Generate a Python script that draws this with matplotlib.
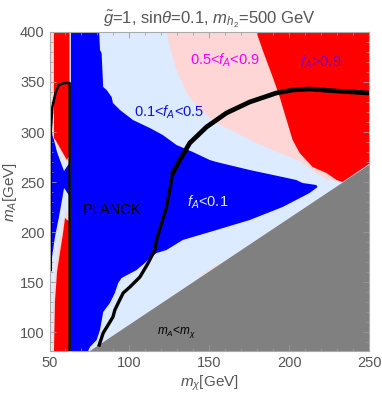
import matplotlib.pyplot as plt

plt.rcParams["font.family"] = "Liberation Sans"
plt.rcParams["mathtext.fontset"] = "custom"
plt.rcParams["mathtext.rm"] = "Liberation Sans"
plt.rcParams["mathtext.it"] = "Liberation Sans:italic"

# colours of the f_A regions
c_blue = "#0000ff"
c_lblue = "#dcebff"
c_pink = "#ffd6d6"
c_red = "#ff0000"
c_gray = "#808080"

# region boundaries (m_chi, m_A)
# f_A < 0.1, main region
blue_x = [63.4, 81.1, 81.6, 82.6, 83.6, 85.75, 88.9, 89.7, 94.1, 102.2, 112.8, 120.9,
          129.5, 139.7, 150.3, 154.5, 175.3, 195.9, 204.5, 208.4, 217.0, 217.8,
          212.8, 195.9, 175.3, 154.5, 133.4, 123.2, 117.0, 112.8, 109.7, 104.5,
          95.1, 93.0, 90.9, 87.8, 83.6, 81.6, 79.5, 75.3, 74.2, 63.4]
blue_y = [400, 400, 382, 379, 345, 342, 335, 329, 322, 312, 304, 297,
          287, 280, 272, 270, 262, 255, 252, 249, 247, 245,
          239, 225, 212, 202, 192, 182, 179, 174, 169, 162,
          154, 149, 139, 129, 120, 102, 92, 85, 81, 81]

# 0.5 < f_A < 0.9
pink_x = [123.3, 125.3, 129.5, 135.75, 144.1, 154.5, 167.0, 179.5, 194.1, 206.6,
          216.0, 224.0, 233.4, 250, 250]
pink_y = [400, 385, 362, 339, 322, 309, 299, 289, 279, 271,
          260, 252, 250, 268, 400]

# f_A > 0.9
red_x = [179.5, 183.4, 189.7, 194.1, 198.4, 202.2, 206.6, 214.7, 223.4, 229.7,
         233.4, 250, 250]
red_y = [400, 382, 355, 335, 312, 292, 279, 265, 259, 252,
         250, 268, 400]

# thin pink sliver along the m_A = m_chi edge
sliver_x = [143, 156, 156, 143]
sliver_y = [153.3, 167.2, 168.7, 154.8]

# Higgs resonance strip
strip_blue_x = [50, 62.5, 62.5, 50]
strip_blue_y = [160, 160, 307, 307]
up_lb_x = [50, 62.5, 62.5, 60.3, 59.1, 57.2, 54.7, 52.8, 51.6, 50]
up_lb_y = [400, 400, 269, 264, 261, 269, 280, 292, 300, 307]
up_pk_x = [51.2, 62.5, 62.5, 60.9, 58.4, 55.9, 53.4, 51.9]
up_pk_y = [400, 400, 272, 269, 275, 283, 291, 296]
up_rd_x = [52.8, 62.5, 62.5, 60.9, 58.4, 55.9, 54.1, 52.8]
up_rd_y = [400, 400, 277, 272, 279, 286, 291, 294]
lo_lb_x = [59.1, 62.5, 62.5, 50, 50, 51.6, 53.4, 55.9, 57.8]
lo_lb_y = [244, 236, 81, 81, 160, 175, 195, 215, 232]
lo_pk_x = [60.3, 62.5, 62.5, 51.9, 52.2, 53.4, 55.3, 57.8]
lo_pk_y = [222, 218, 81, 81, 130, 160, 185, 205]
lo_rd_x = [59.7, 62.5, 62.5, 52.8, 53.4, 54.7, 56.6, 58.4]
lo_rd_y = [214, 210, 81, 81, 130, 160, 180, 198]

# m_A < m_chi excluded
gray_x = [75.3, 250, 250]
gray_y = [81, 267, 81]

# PLANCK relic density curves
planck_lo_x = [81.1, 83.6, 87.8, 89.7, 90.9, 93.0, 96.1, 100.3, 106.6, 111.75, 115.9,
               117.0, 123.25, 124.1, 127.2]
planck_lo_y = [87, 99, 110, 115, 122, 129, 139, 145, 155, 169, 182,
               192, 225, 232, 259]
planck_hi_x = [127.2, 131.6, 137.8, 148.25, 160.75, 175.3, 192.0,
               202.4, 212.8, 229.5, 250]
planck_hi_y = [259, 272, 289, 305, 319, 330, 339,
               342, 343, 341, 339]
res_x = [50.8, 50.8, 50.8, 51.8, 53.9, 55.9, 59.1, 62.6, 62.6]
res_y = [162, 232, 302, 325, 340, 347, 349, 349, 81]

fig = plt.figure(figsize=(3.82, 3.96), dpi=100)
ax = fig.add_axes([0.1296, 0.1136, 0.8364, 0.8056])
ax.set_facecolor(c_lblue)

ax.fill(pink_x, pink_y, color=c_pink, lw=0)
ax.fill(sliver_x, sliver_y, color=c_pink, lw=0)
ax.fill(red_x, red_y, color=c_red, lw=0)
ax.fill(blue_x, blue_y, color=c_blue, lw=0)

ax.fill(strip_blue_x, strip_blue_y, color=c_blue, lw=0)
ax.fill(up_lb_x, up_lb_y, color=c_lblue, lw=0)
ax.fill(up_pk_x, up_pk_y, color=c_pink, lw=0)
ax.fill(up_rd_x, up_rd_y, color=c_red, lw=0)
ax.fill(lo_lb_x, lo_lb_y, color=c_lblue, lw=0)
ax.fill(lo_pk_x, lo_pk_y, color=c_pink, lw=0)
ax.fill(lo_rd_x, lo_rd_y, color=c_red, lw=0)

ax.fill(gray_x, gray_y, color=c_gray, lw=0)

ax.plot(planck_lo_x, planck_lo_y, color="black", lw=2.4, solid_joinstyle="round")
ax.plot(planck_hi_x, planck_hi_y, color="black", lw=3.4, solid_joinstyle="round")
ax.plot(res_x, res_y, color="black", lw=1.8)

# region labels
ax.text(159.7, 372, "0.5<$f_A$<0.9", color="#ff00ff", fontsize=10.5, ha="center", va="center")
ax.text(220, 370, "$f_A$>0.9", color="#8000b0", fontsize=10.5, ha="center", va="center")
ax.text(124.7, 320, "0.1<$f_A$<0.5", color="#1010e0", fontsize=10.5, ha="center", va="center")
ax.text(149, 230, "$f_A$<0.1", color=c_lblue, fontsize=10.5, ha="center", va="center")
ax.text(89.4, 222, "PLANCK", color="black", fontsize=10.5, ha="center", va="center")
ax.text(129.4, 100, r"$m_A$<$m_\chi$", color="black", fontsize=8.5, ha="center", va="center")

ax.set_xlim(50, 250)
ax.set_ylim(81, 400)
ax.set_xticks([50, 100, 150, 200, 250])
ax.set_yticks([100, 150, 200, 250, 300, 350, 400])
ax.set_xticks(range(50, 251, 10), minor=True)
ax.set_yticks(range(90, 401, 10), minor=True)
ax.tick_params(which="both", direction="in", top=True, right=True, color="#999999",
               labelcolor="#555555", labelsize=10.5)
ax.tick_params(which="major", length=4, width=0.6)
ax.tick_params(which="minor", length=2, width=0.5)
for s in ax.spines.values():
    s.set_color("#aaaaaa")
    s.set_linewidth(0.8)

ax.set_xlabel(r"$m_\chi$[GeV]", fontsize=11, color="#555555", labelpad=3)
ax.set_ylabel(r"$m_A$[GeV]", fontsize=11, color="#555555", labelpad=1)
ax.set_title(r"$\tilde{g}$=1, sin$\theta$=0.1, $m_{h_2}$=500 GeV", fontsize=12,
             color="#555555", pad=6)

fig.savefig("out.png", dpi=100)
